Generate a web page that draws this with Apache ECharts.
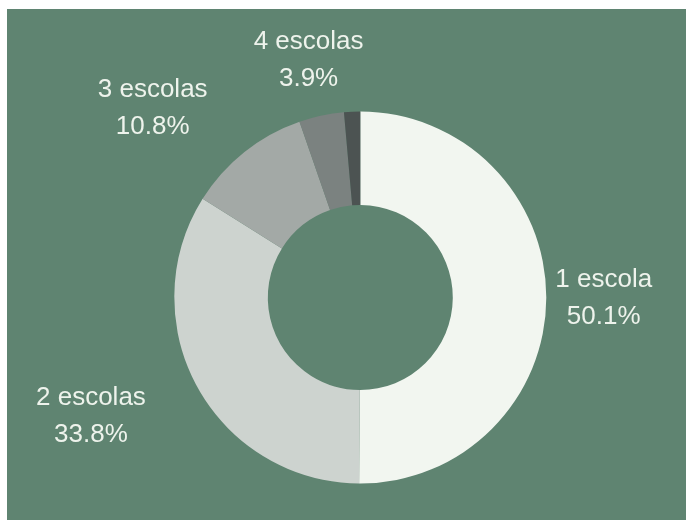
<!DOCTYPE html>
<html>
<head>
<meta charset="utf-8">
<script src="https://cdn.jsdelivr.net/npm/echarts@6/dist/echarts.min.js"></script>
<style>
  html, body { margin: 0; padding: 0; background: #ffffff; }
  #chart { position: absolute; left: 7px; top: 9px; width: 679px; height: 511px; }
</style>
</head>
<body>
<div id="chart"></div>
<script>
// Number of schools per group and share of each group (%)
const categories = ['1 escola', '2 escolas', '3 escolas', '4 escolas', '5+ escolas'];
const shares = [50.1, 33.8, 10.8, 3.9, 1.4];

// Slice fills, light to dark
const sliceColors = ['#f2f6f0', '#cdd3cf', '#a3a9a6', '#7b8280', '#4c5352'];
// Radial / horizontal offsets of each outside label
const labelRadial = [9, 61, 56, 57, 0];
const labelHorizontal = [0, -2, 2, -54, 0];

const textColor = '#eef3ec';

const chart = echarts.init(document.getElementById('chart'), null, { renderer: 'canvas' });

const data = categories.map((name, i) => ({
  name: name,
  value: shares[i],
  itemStyle: { color: sliceColors[i] },
  labelLine: { show: false, length: labelRadial[i], length2: labelHorizontal[i] }
}));

chart.setOption({
  backgroundColor: '#5f8471',
  animation: false,
  series: [{
    type: 'pie',
    center: [353.3, 288.5],
    radius: [92.5, 186],
    startAngle: 90,
    clockwise: true,
    minShowLabelAngle: 8,
    avoidLabelOverlap: false,
    data: data,
    itemStyle: { borderWidth: 0 },
    emphasis: { disabled: true },
    label: {
      show: true,
      position: 'outside',
      distanceToLabelLine: 0,
      formatter: p => '{t|' + p.name + '}\n{t|' + p.value.toFixed(1) + '%}',
      rich: {
        t: {
          align: 'center',
          fontFamily: '"Liberation Sans", Arial, sans-serif',
          fontSize: 26,
          lineHeight: 37,
          color: textColor
        }
      }
    },
    labelLine: { show: false }
  }]
});
</script>
</body>
</html>
